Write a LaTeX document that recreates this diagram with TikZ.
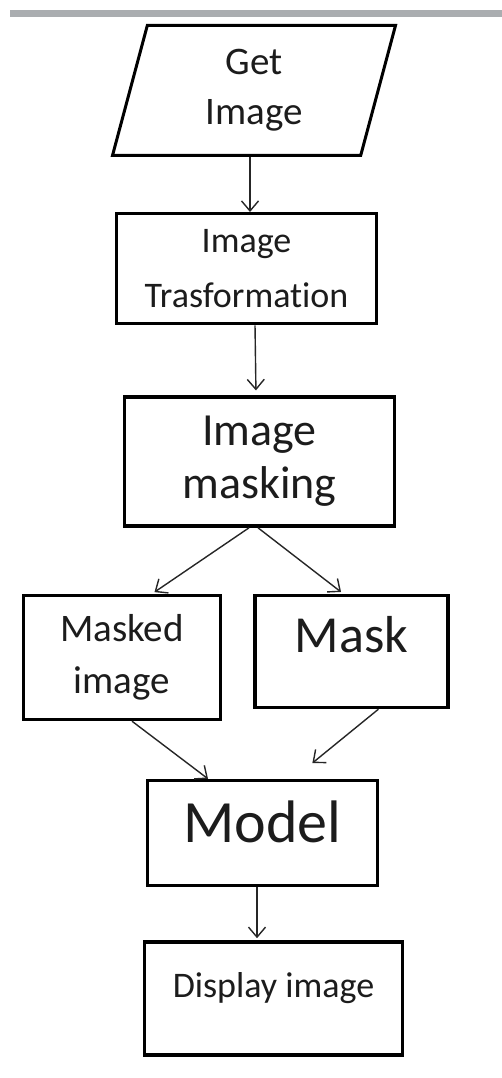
\documentclass[tikz,border=0pt]{standalone}
\usepackage{fontspec}
\setmainfont{Carlito}[Ligatures=NoCommon]
\usetikzlibrary{arrows.meta, shapes.geometric, positioning}
\definecolor{barGray}{HTML}{AAADB0}
\definecolor{txtGray}{HTML}{1C1C1C}

\begin{document}
\begin{tikzpicture}[x=1pt, y=1pt,
    node distance=55pt,
    box/.style={rectangle, draw=black, line width=3.4pt, fill=white,
                align=center, text=txtGray, inner sep=0pt},
    io/.style={trapezium, trapezium left angle=67, trapezium right angle=113,
               trapezium stretches body, draw=black, line width=3pt,
               align=center, text=txtGray, inner sep=0pt},
    arr/.style={-{Straight Barb[length=10pt, width=17pt]}, line width=1.4pt,
                draw=black!85}
  ]
  \useasboundingbox (0,0) rectangle (502,-1078);
  \fill[barGray] (10,-10) rectangle (502,-17);

  \node[io, minimum width=283pt, minimum height=130pt,
        font=\fontsize{39}{50}\selectfont] (getimg) at (254,-90.5) {Get\\Image};
  \node[box, below=55pt of getimg, xshift=-7.5pt,
        minimum width=260pt, minimum height=110pt,
        font=\fontsize{36}{55}\selectfont] (trans) {Image\\Trasformation};
  \node[box, below=70pt of trans, xshift=13pt,
        minimum width=270pt, minimum height=129pt,
        font=\fontsize{46}{53}\selectfont] (masking) {Image\\masking};
  \node[box, below=66pt of masking, xshift=-137.5pt,
        minimum width=197pt, minimum height=124pt,
        font=\fontsize{39}{52}\selectfont] (masked) {Masked\\image};
  \node[box, right=31pt of masked.north east, anchor=north west,
        minimum width=193pt, minimum height=112pt,
        text height=34pt, text depth=32pt,
        font=\fontsize{52}{60}\selectfont] (mask) {Mask};
  \node[box, below=251pt of masking, xshift=3pt,
        minimum width=230pt, minimum height=105pt,
        text height=40pt, text depth=21pt,
        font=\fontsize{60}{70}\selectfont] (model) {Model};
  \node[box, below=53pt of model, xshift=11pt,
        minimum width=258pt, minimum height=113pt,
        text height=26pt, text depth=28pt,
        font=\fontsize{36}{44}\selectfont] (display) {Display image};

  \draw[arr] ([xshift=-4pt]getimg.south) -- ([xshift=-4pt]getimg.south |- trans.north);
  \draw[arr, shorten >=5pt] ([xshift=8.5pt]trans.south) -- ([xshift=9.5pt]trans.south |- masking.north);
  % split after masking
  \draw[arr, shorten >=3pt] ([xshift=-10.5pt]masking.south) -- ([xshift=30pt]masked.north);
  \draw[arr, shorten >=3pt] ([xshift=-1.5pt]masking.south) -- ([xshift=-8pt]mask.north);
  % both into the model
  \draw[arr] ([xshift=10pt]masked.south) -- ([xshift=-54.5pt]model.north);
  \draw[arr, shorten >=25pt] ([xshift=27pt]mask.south) -- ([xshift=30.5pt]model.north);
  \draw[arr, shorten >=2pt] ([xshift=-5.5pt]model.south) -- ([xshift=-5.5pt]model.south |- display.north);
\end{tikzpicture}
\end{document}
